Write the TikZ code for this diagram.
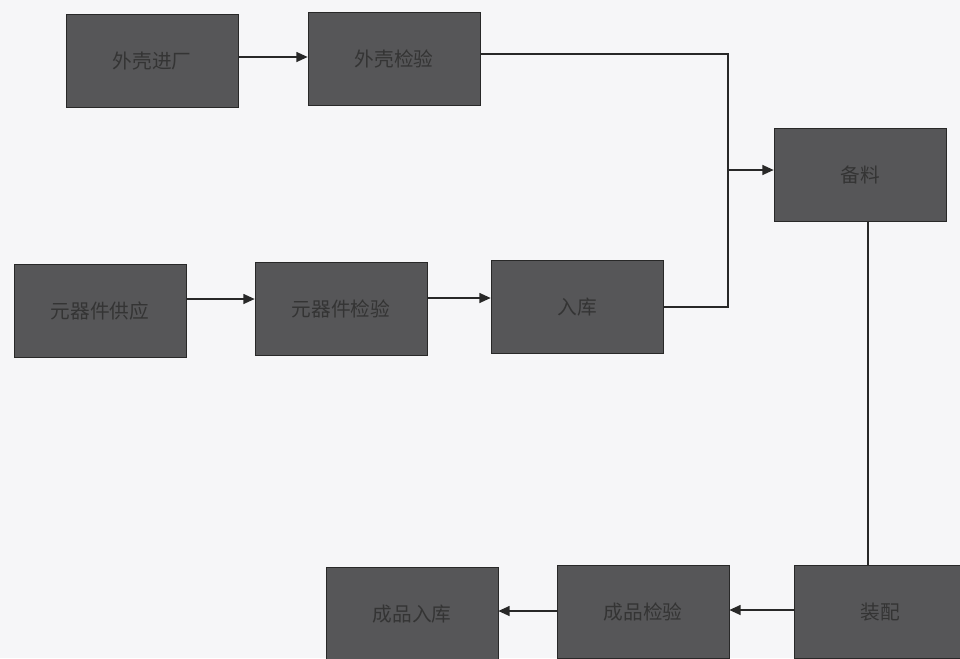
\documentclass[tikz,border=0pt]{standalone}
\usepackage{fontspec}
\newfontfamily\cjk{Noto Sans CJK SC}
\usetikzlibrary{arrows.meta, positioning, calc}
\definecolor{fundo}{RGB}{246,246,248}
\definecolor{caixa}{RGB}{86,86,88}
\definecolor{letra}{RGB}{52,52,52}
\definecolor{linha}{RGB}{40,40,40}

\begin{document}
\begin{tikzpicture}[x=0.025cm, y=-0.025cm,
    bloco/.style={draw=linha, fill=caixa, minimum width=4.3cm, minimum height=2.32cm, inner sep=0pt, font=\cjk\fontsize{14}{16}\selectfont, text=letra},
    seta/.style={-{Triangle[length=8pt, width=7pt]}, line width=1.1pt, linha},
    fio/.style={line width=1.1pt, linha}
  ]
    \fill[fundo] (0,0) rectangle (960,658);
    \clip (0,0) rectangle (960,658);

    \node[bloco] (casca) at (152,61) {外壳进厂};
    \node[bloco] (cascaInsp) at (394,59) {外壳检验};
    \node[bloco] (comp) at (100,311) {元器件供应};
    \node[bloco] (compInsp) at (341,309) {元器件检验};
    \node[bloco] (estoque) at (577,307) {入库};
    \node[bloco] (prep) at (860,175) {备料};
    \node[bloco] (montagem) at (880,612) {装配};
    \node[bloco] (final) at (643,612) {成品检验};
    \node[bloco] (saida) at (412,614) {成品入库};

    \coordinate (junta) at (728,170);
    \draw[seta] (casca.east |- 0,57) -- (cascaInsp.west |- 0,57);
    \draw[seta] (comp.east |- 0,299) -- (compInsp.west |- 0,299);
    \draw[seta] (compInsp.east |- 0,298) -- (estoque.west |- 0,298);
    \draw[fio] (cascaInsp.east |- 0,54) -| (junta);
    \draw[fio] (estoque.east) -| (junta);
    \draw[seta] (junta) -- (prep.west |- junta);
    \draw[fio] (prep.south -| 868,0) -- (montagem.north -| 868,0);
    \draw[seta] (montagem.west |- 0,610) -- (final.east |- 0,610);
    \draw[seta] (final.west |- 0,611) -- (saida.east |- 0,611);
  \end{tikzpicture}
\end{document}
